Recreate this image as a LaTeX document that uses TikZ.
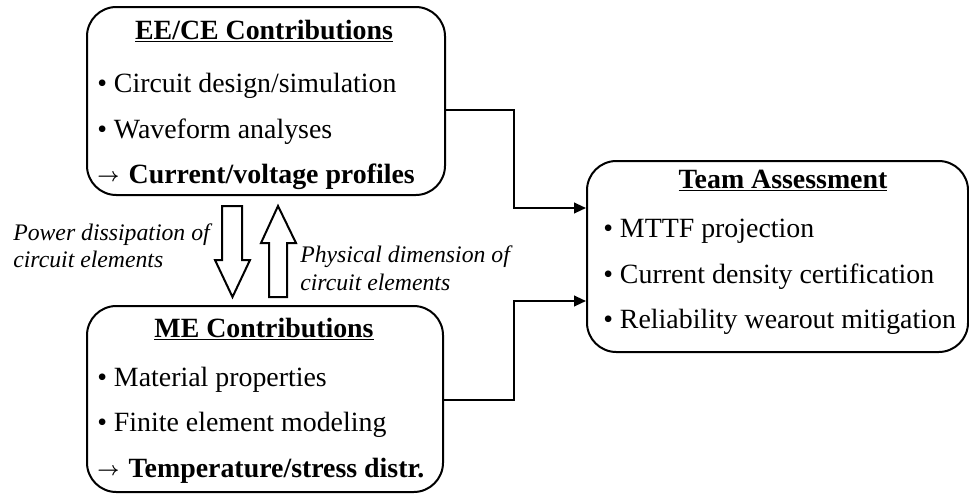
\documentclass[tikz,border=0pt]{standalone}
\usepackage{fontspec}
\setmainfont{Liberation Serif}
\usetikzlibrary{arrows.meta}
\newcommand{\myarr}{\raisebox{1pt}{\fontsize{14}{14}\selectfont\boldmath$\rightarrow$}}
\begin{document}
\begin{tikzpicture}[x=0.75pt,y=-0.75pt,
  box/.style={draw,line width=1.5pt,rounded corners=22pt,inner sep=0pt},
  txt/.style={anchor=base west,inner sep=0pt,font=\fontsize{20.9}{24}\selectfont},
  ttl/.style={anchor=base,inner sep=0pt,font=\fontsize{20.9}{24}\selectfont\bfseries},
  lbl/.style={anchor=base west,inner sep=0pt,font=\fontsize{17.8}{21}\selectfont\itshape},
  conn/.style={line width=1.5pt,-{Triangle[length=9pt,width=8pt]}},
  blk/.style={draw,line width=1.5pt,line join=miter,fill=white}]
\useasboundingbox (0,0) rectangle (969,493);
% boxes
\node[box,minimum width=268.5pt,minimum height=141pt] (EE) at (266,101) {};
\node[box,minimum width=267pt,minimum height=139.5pt] (ME) at (265,399) {};
\node[box,minimum width=285.75pt,minimum height=143.25pt] (TA) at (777.5,256.5) {};
% EE text
\node[ttl] (eet) at (264,39) {\underline{EE/CE Contributions}};
\node[txt] (ee1) at (97,92) {\textbullet\ Circuit design/simulation};
\node[txt] (ee2) at (97,138) {\textbullet\ Waveform analyses};
\node[txt] (ee3) at (97,183) {\myarr\hspace{7pt}\textbf{Current/voltage profiles}};
% ME text
\node[ttl] (met) at (264,337) {\underline{ME Contributions}};
\node[txt] (me1) at (97,386) {\textbullet\ Material properties};
\node[txt] (me2) at (97,431) {\textbullet\ Finite element modeling};
\node[txt] (me3) at (97,477) {\myarr\hspace{7pt}\textbf{Temperature/stress distr.}};
% Team text
\node[ttl] (tat) at (783,188) {\underline{Team Assessment}};
\node[txt] (ta1) at (603,237) {\textbullet\ MTTF projection};
\node[txt] (ta2) at (603,283) {\textbullet\ Current density certification};
\node[txt] (ta3) at (603,328) {\textbullet\ Reliability wearout mitigation};
% labels
\node[lbl] (l1) at (13,240) {Power dissipation of};
\node[lbl] (l2) at (13,267) {circuit elements};
\node[lbl] (r1) at (300,262) {Physical dimension of};
\node[lbl] (r2) at (300,290) {circuit elements};
% block arrows
\draw[blk] (222,206) -- (242,206) -- (242,260) -- (250,260) -- (232.5,297) -- (215,260) -- (222,260) -- cycle;
\draw[blk] (269,297) -- (287,297) -- (287,243) -- (296,243) -- (278,206) -- (261,243) -- (269,243) -- cycle;
% connectors
\coordinate (c1) at (514,110);
\coordinate (c1b) at (514,208);
\coordinate (c2) at (514,400);
\coordinate (c2b) at (514,301);
\draw[conn] (EE.east |- c1) -- (c1) -- (c1b) -- (TA.west |- c1b);
\draw[conn] (ME.east |- c2) -- (c2) -- (c2b) -- (TA.west |- c2b);
\end{tikzpicture}
\end{document}
